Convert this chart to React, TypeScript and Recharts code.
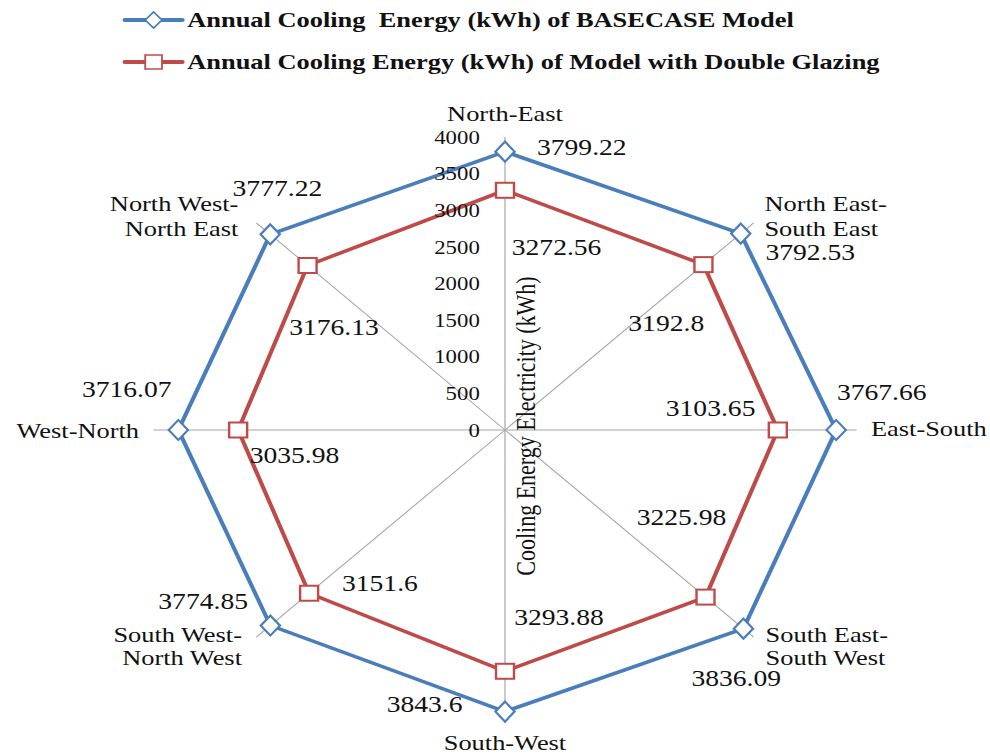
import { RadarChart, Radar, PolarGrid, PolarAngleAxis, PolarRadiusAxis, Legend, Customized } from "recharts"

const directions = [
  "North-East",
  "North East-South East",
  "East-South",
  "South East-South West",
  "South-West",
  "South West-North West",
  "West-North",
  "North West-North East",
]
const directionLines = [
  ["North-East"],
  ["North East-", "South East"],
  ["East-South"],
  ["South East-", "South West"],
  ["South-West"],
  ["South West-", "North West"],
  ["West-North"],
  ["North West-", "North East"],
]
const basecase = [3799.22, 3792.53, 3767.66, 3836.09, 3843.6, 3774.85, 3716.07, 3777.22]
const doubleGlazing = [3272.56, 3192.8, 3103.65, 3225.98, 3293.88, 3151.6, 3035.98, 3176.13]
const radiusTicks = [0, 500, 1000, 1500, 2000, 2500, 3000, 3500, 4000]
const seriesNames = [
  "Annual Cooling  Energy (kWh) of BASECASE Model",
  "Annual Cooling Energy (kWh) of Model with Double Glazing",
]
const axisTitle = "Cooling Energy Electricity (kWh)"

const rows = directions.map((dir, i) => ({ dir, base: basecase[i], glazing: doubleGlazing[i] }))

// layout (the original picture is stretched 1.2x horizontally)
const STRETCH = 1.2
const W = 990 / STRETCH
const H = 755
const CX = 505 / STRETCH
const CY = 430
const R = 293
const BLUE = "#4A7EBB"
const RED = "#BE4B48"
const FONT = '"Liberation Serif", "Times New Roman", serif'

// data label offsets from each point (dx, dy)
const baseLabelPos = [[64, -5], [58, 18], [38, -38], [-6, 49], [-67, -8], [-56, -25], [-43, -41], [6, -46]]
const glazingLabelPos = [[43, 57], [-31, 58], [-56, -22], [-20, -80], [45, -54], [59, -10], [47, 25], [22, 61]]

// category label placement relative to spoke end
const angleLabelLayout: { anchor: "start" | "middle" | "end"; dx: number; dys: number[] }[] = [
  { anchor: "middle", dx: 0, dys: [-24] },
  { anchor: "start", dx: 9, dys: [-20, 5] },
  { anchor: "start", dx: 12, dys: [-2] },
  { anchor: "start", dx: 10, dys: [-3, 20] },
  { anchor: "middle", dx: 0, dys: [19] },
  { anchor: "end", dx: -12, dys: [-3, 20] },
  { anchor: "end", dx: -12, dys: [0] },
  { anchor: "end", dx: -15, dys: [-20, 5] },
]

function AngleTick(props: any) {
  const i = directions.indexOf(props.payload.value)
  const a = ((90 - i * 45) * Math.PI) / 180
  const ex = CX + R * Math.cos(a)
  const ey = CY - R * Math.sin(a)
  const cfg = angleLabelLayout[i]
  return (
    <text textAnchor={cfg.anchor} fontSize={22} fontFamily={FONT} fill="#111">
      {directionLines[i].map((line, k) => (
        <tspan key={k} x={ex + cfg.dx} y={ey + cfg.dys[k]} dy="0.35em">
          {line}
        </tspan>
      ))}
    </text>
  )
}

function RadiusTick(props: any) {
  const { x, y, payload } = props
  return (
    <text x={x - 21} y={y} dy="0.35em" textAnchor="end" fontSize={19} fontFamily={FONT} fill="#111">
      {payload.value}
    </text>
  )
}

const baseDot = (props: any) => {
  const { cx, cy, index } = props
  const [dx, dy] = baseLabelPos[index]
  return (
    <g key={`b-${index}`}>
      <path
        d={`M${cx},${cy - 10} L${cx + 8},${cy} L${cx},${cy + 10} L${cx - 8},${cy} Z`}
        fill="#fff"
        stroke={BLUE}
        strokeWidth={2}
      />
      <text x={cx + dx} y={cy + dy} dy="0.35em" textAnchor="middle" fontSize={23} fontFamily={FONT} fill="#111">
        {basecase[index]}
      </text>
    </g>
  )
}

const glazingDot = (props: any) => {
  const { cx, cy, index } = props
  const [dx, dy] = glazingLabelPos[index]
  return (
    <g key={`g-${index}`}>
      <rect x={cx - 7.5} y={cy - 7.5} width={15} height={15} fill="#fff" stroke={RED} strokeWidth={2} />
      <text x={cx + dx} y={cy + dy} dy="0.35em" textAnchor="middle" fontSize={23} fontFamily={FONT} fill="#111">
        {doubleGlazing[index]}
      </text>
    </g>
  )
}

function LegendMarker({ kind, color }: { kind: string; color: string }) {
  return (
    <svg width={52} height={20} style={{ display: "block" }}>
      <line x1={2} y1={10} x2={50} y2={10} stroke={color} strokeWidth={4} strokeLinecap="round" />
      {kind === "diamond" ? (
        <path d="M26,2 L33,10 L26,18 L19,10 Z" fill="#fff" stroke={color} strokeWidth={1.5} />
      ) : (
        <rect x={19} y={3} width={14} height={14} fill="#fff" stroke={color} strokeWidth={1.5} />
      )}
    </svg>
  )
}

function renderLegend() {
  const kinds = ["diamond", "square"]
  const colors = [BLUE, RED]
  return (
    <div style={{ position: "absolute", left: 102, top: -1 }}>
      {seriesNames.map((name, i) => (
        <div key={name} style={{ display: "flex", alignItems: "center", height: 42 }}>
          <LegendMarker kind={kinds[i]} color={colors[i]} />
          <span
            style={{
              whiteSpace: "pre",
              fontFamily: FONT,
              fontWeight: "bold",
              fontSize: 22,
              color: "#111",
              marginLeft: 2,
            }}
          >
            {name}
          </span>
        </div>
      ))}
    </div>
  )
}

function AxisTitle() {
  return (
    <text
      transform={`translate(${CX + 17.5},${CY - 4}) rotate(-90)`}
      textAnchor="middle"
      dy="0.35em"
      fontSize={22}
      fontFamily={FONT}
      fill="#111"
    >
      {axisTitle}
    </text>
  )
}

export default function App() {
  return (
    <div style={{ position: "absolute", left: 0, top: 0, width: 990, height: 755, overflow: "hidden", background: "#fff" }}>
      <div style={{ width: W, height: H, transform: `scaleX(${STRETCH})`, transformOrigin: "0 0" }}>
        <RadarChart
          width={W}
          height={H}
          data={rows}
          cx={CX}
          cy={CY}
          outerRadius={R}
          margin={{ top: 0, right: 0, bottom: 0, left: 0 }}
        >
          <PolarGrid gridType="circle" polarRadius={[]} stroke="#a6a6a6" strokeWidth={1} />
          <PolarAngleAxis dataKey="dir" tick={AngleTick} tickLine={false} axisLine={false} />
          <PolarRadiusAxis
            angle={90}
            domain={[0, 4000]}
            ticks={radiusTicks}
            tickCount={9}
            axisLine={false}
            tickLine={false}
            tick={RadiusTick}
          />
          <Radar
            name={seriesNames[0]}
            dataKey="base"
            stroke={BLUE}
            strokeWidth={3.5}
            fill="none"
            fillOpacity={0}
            dot={baseDot}
            isAnimationActive={false}
          />
          <Radar
            name={seriesNames[1]}
            dataKey="glazing"
            stroke={RED}
            strokeWidth={3.5}
            fill="none"
            fillOpacity={0}
            dot={glazingDot}
            isAnimationActive={false}
          />
          <Customized component={<AxisTitle />} />
          <Legend content={renderLegend} wrapperStyle={{ position: "absolute", left: 0, top: 0, width: W }} />
        </RadarChart>
      </div>
    </div>
  )
}
